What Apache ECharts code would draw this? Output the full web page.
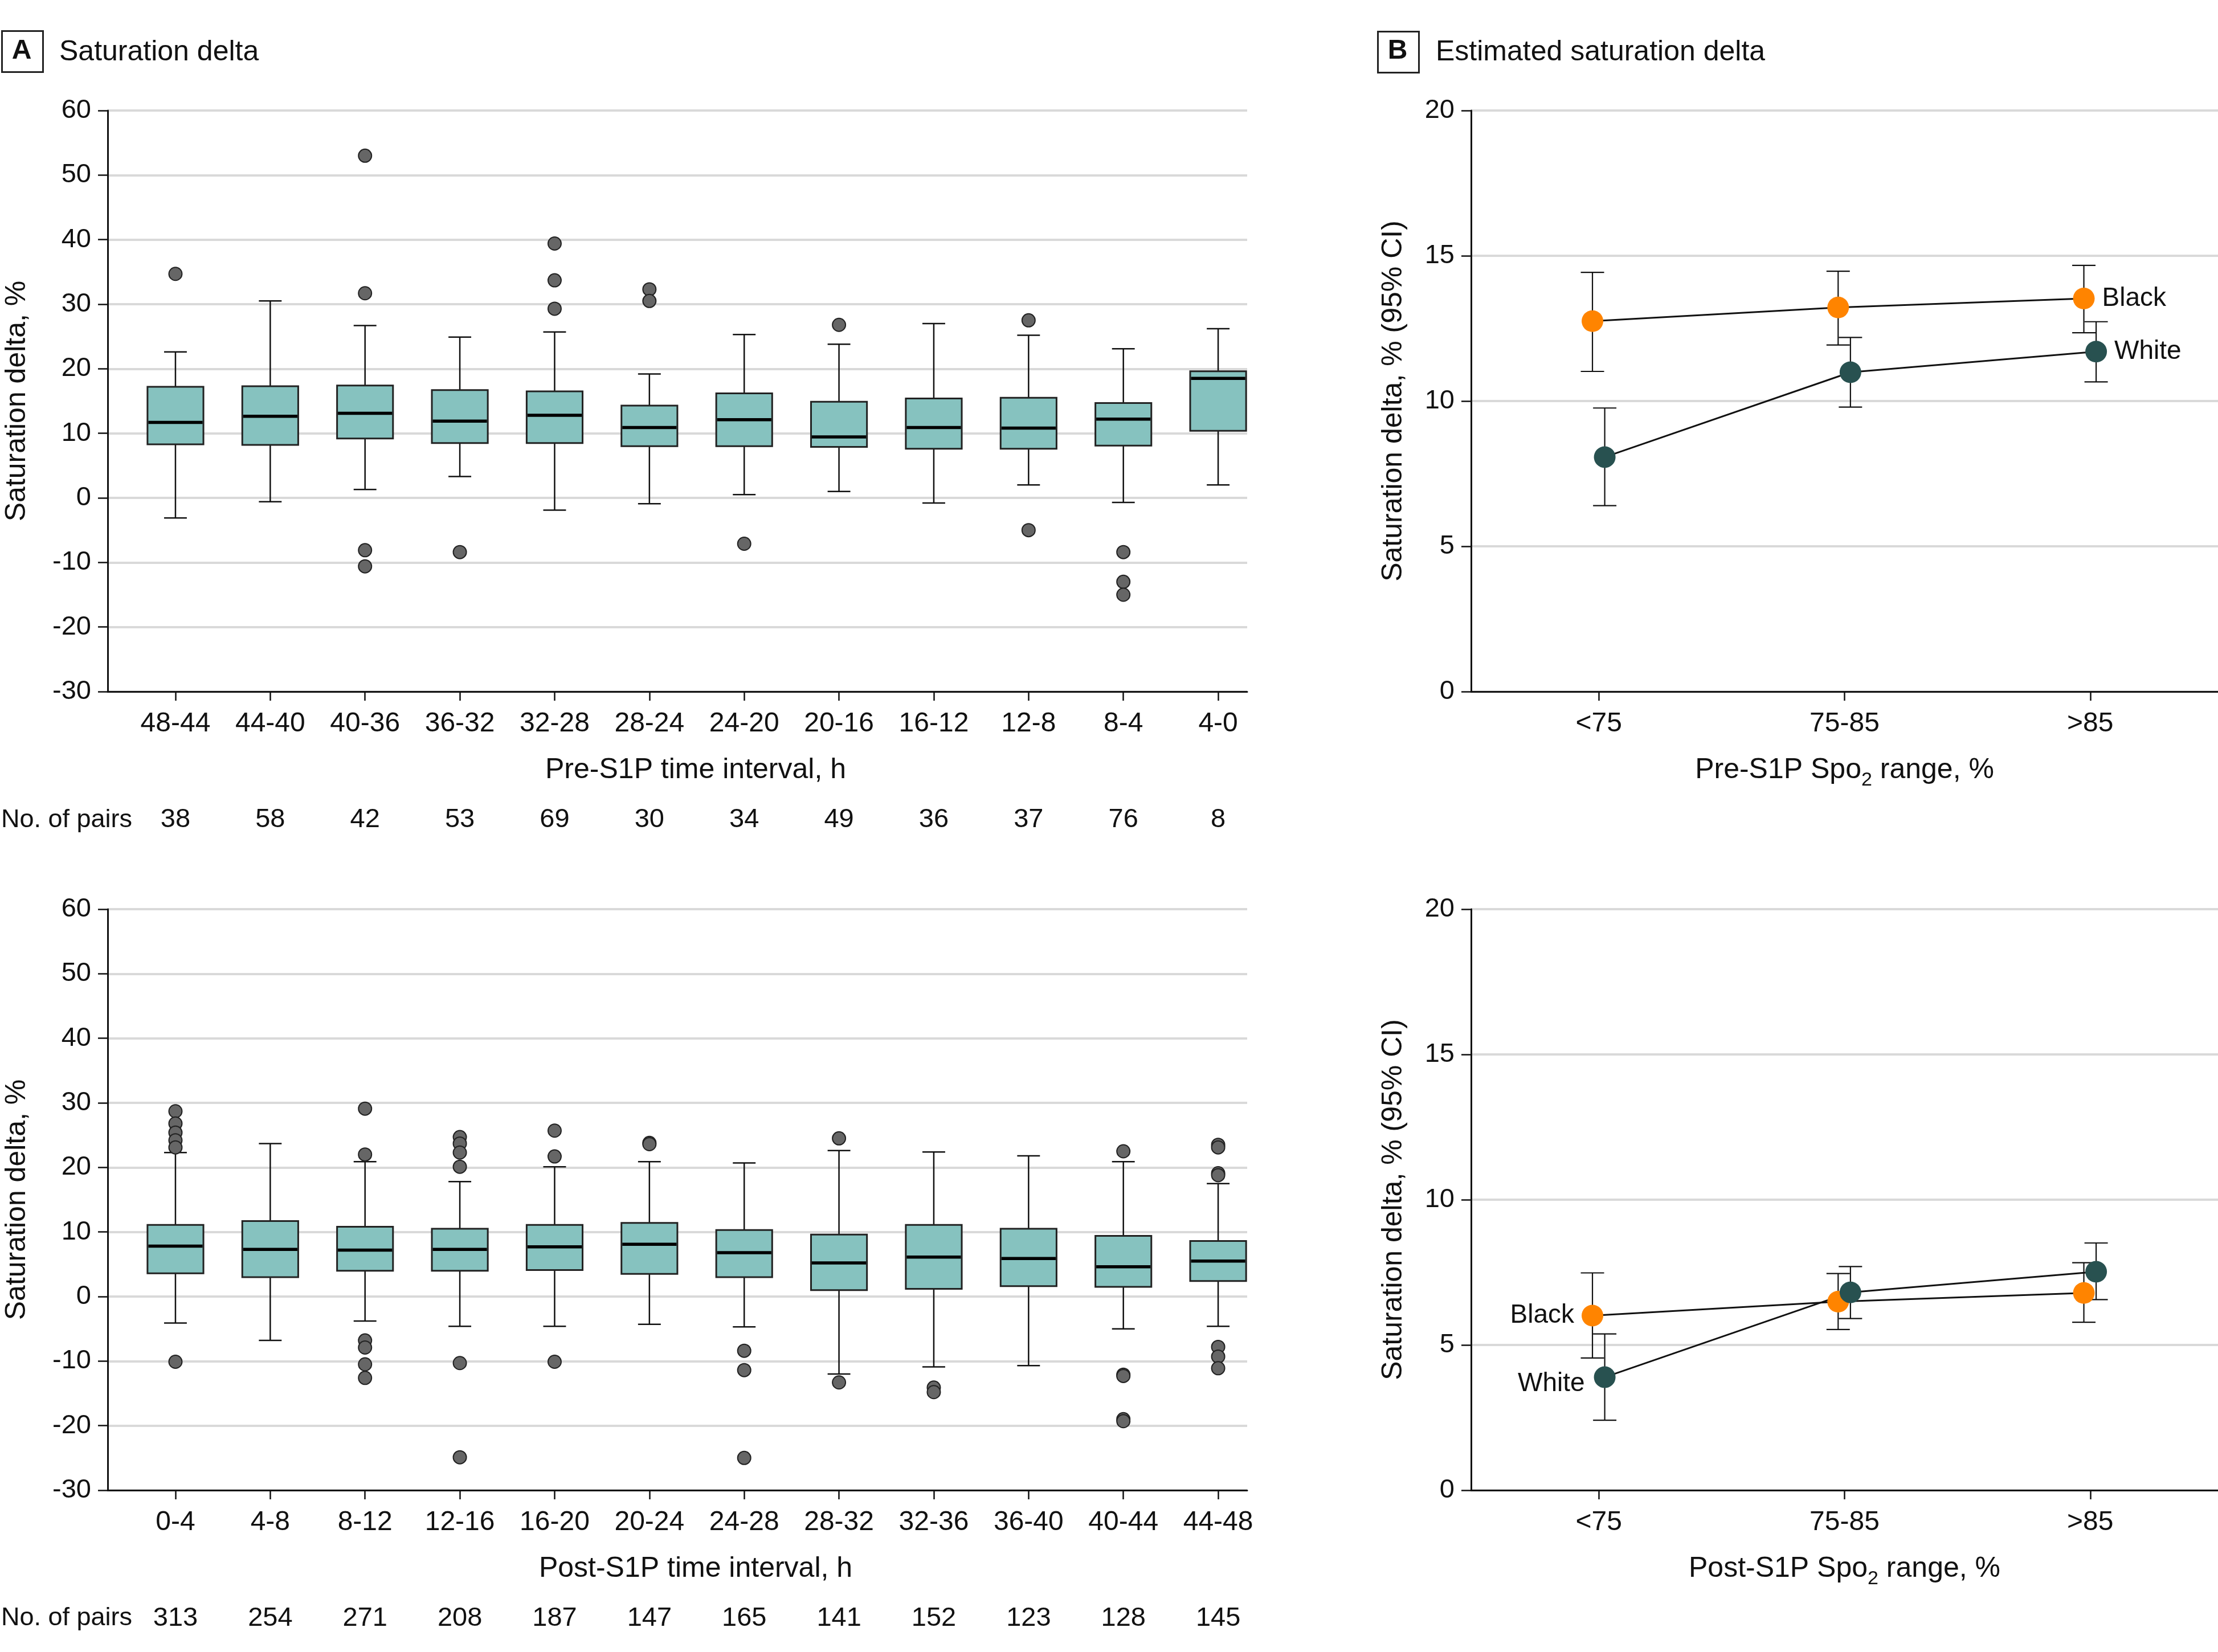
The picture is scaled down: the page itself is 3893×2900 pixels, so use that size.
<!DOCTYPE html>
<html>
<head>
<meta charset="utf-8">
<script src="https://cdn.jsdelivr.net/npm/echarts@6/dist/echarts.min.js"></script>
<style>
html,body{margin:0;padding:0;background:#fff;}
#chart{width:3893px;height:2900px;}
</style>
</head>
<body>
<div id="chart"></div>
<script>
// ---------- DATA ----------
const preCats = ['48-44','44-40','40-36','36-32','32-28','28-24','24-20','20-16','16-12','12-8','8-4','4-0'];
// [lower whisker, Q1, median, Q3, upper whisker]
const preBox = [
  [-3.1, 8.3, 11.7, 17.2, 22.6],
  [-0.6, 8.2, 12.65, 17.3, 30.5],
  [1.3, 9.2, 13.1, 17.4, 26.7],
  [3.3, 8.5, 11.9, 16.7, 24.9],
  [-1.9, 8.5, 12.8, 16.5, 25.7],
  [-0.9, 8.0, 10.9, 14.3, 19.2],
  [0.5, 8.0, 12.1, 16.2, 25.3],
  [1.0, 7.9, 9.45, 14.9, 23.8],
  [-0.8, 7.6, 10.9, 15.4, 27.0],
  [2.0, 7.6, 10.8, 15.5, 25.2],
  [-0.7, 8.1, 12.2, 14.7, 23.1],
  [2.0, 10.4, 18.5, 19.6, 26.2]
];
const preOutliers = [
  [34.7],
  [],
  [53.0, 31.7, -8.1, -10.6],
  [-8.4],
  [39.4, 33.7, 29.3],
  [32.3, 30.5],
  [-7.1],
  [26.8],
  [],
  [27.5, -5.0],
  [-8.4, -13.0, -15.0],
  []
];
const prePairs = [38, 58, 42, 53, 69, 30, 34, 49, 36, 37, 76, 8];

const postCats = ['0-4','4-8','8-12','12-16','16-20','20-24','24-28','28-32','32-36','36-40','40-44','44-48'];
const postBox = [
  [-4.1, 3.6, 7.8, 11.1, 22.3],
  [-6.8, 3.0, 7.3, 11.7, 23.7],
  [-3.8, 4.0, 7.2, 10.8, 20.9],
  [-4.6, 4.0, 7.3, 10.5, 17.8],
  [-4.6, 4.1, 7.7, 11.1, 20.1],
  [-4.3, 3.5, 8.1, 11.4, 20.9],
  [-4.7, 3.0, 6.8, 10.3, 20.7],
  [-12.0, 1.0, 5.2, 9.6, 22.6],
  [-10.9, 1.2, 6.1, 11.1, 22.4],
  [-10.7, 1.6, 5.9, 10.5, 21.8],
  [-5.0, 1.5, 4.6, 9.4, 20.9],
  [-4.6, 2.4, 5.5, 8.6, 17.5]
];
const postOutliers = [
  [28.7, 26.8, 25.4, 24.2, 23.1, -10.1],
  [],
  [29.1, 22.0, -6.8, -7.9, -10.5, -12.6],
  [24.7, 23.7, 22.3, 20.1, -10.3, -24.9],
  [25.7, 21.7, -10.1],
  [23.8, 23.6],
  [-8.4, -11.4, -25.0],
  [24.5, -13.3],
  [-14.1, -14.8],
  [],
  [22.5, -12.1, -12.3, -19.0, -19.3],
  [23.5, 23.1, 19.1, 18.8, -7.8, -9.3, -11.1]
];
const postPairs = [313, 254, 271, 208, 187, 147, 165, 141, 152, 123, 128, 145];

const spoCats = ['<75', '75-85', '>85'];
const preBlackEst = [12.75, 13.22, 13.53];
const preBlackLo  = [11.02, 11.93, 12.35];
const preBlackHi  = [14.43, 14.47, 14.67];
const preWhiteEst = [8.07, 10.99, 11.70];
const preWhiteLo  = [6.40, 9.79, 10.66];
const preWhiteHi  = [9.76, 12.19, 12.73];
const postBlackEst = [6.01, 6.49, 6.79];
const postBlackLo  = [4.55, 5.53, 5.78];
const postBlackHi  = [7.48, 7.46, 7.83];
const postWhiteEst = [3.89, 6.81, 7.52];
const postWhiteLo  = [2.41, 5.91, 6.56];
const postWhiteHi  = [5.38, 7.70, 8.51];

const yTicksLeft = [-30, -20, -10, 0, 10, 20, 30, 40, 50, 60];
const yTicksRight = [0, 5, 10, 15, 20];

// ---------- STYLE ----------
const FONT = "'Liberation Sans', Arial, sans-serif";
const TXT = '#111';
const GRIDC = '#d9d9d9';
const BOXFILL = '#86c2bf';
const ORANGE = '#ff8400';
const TEAL = '#285150';
const BOX_W = 0.59, CAP_W = 0.24;
const EB_CAP = 0.095, DX_BLACK = -0.026, DX_WHITE = 0.024;

const chart = echarts.init(document.getElementById('chart'), null, {renderer: 'canvas'});

const idx12 = preCats.map((_, i) => i);
const idx3 = spoCats.map((_, i) => i);

function leftXAxis(grid, cats, name) {
  return {
    gridIndex: grid, type: 'value', min: -0.715, max: 11.306, position: 'bottom',
    splitLine: {show: false},
    axisLine: {show: true, onZero: false, lineStyle: {color: '#111', width: 3}},
    axisTick: {show: true, customValues: idx12, length: 16, lineStyle: {color: '#111', width: 2.5}},
    axisLabel: {show: true, customValues: idx12, formatter: v => cats[Math.round(v)], margin: 33,
      fontSize: 48, fontFamily: FONT, color: TXT},
    name: name, nameLocation: 'middle', nameGap: 113,
    nameTextStyle: {fontSize: 50, fontFamily: FONT, color: TXT, padding: [0, 0, 0, 64]}
  };
}
function pairsXAxis(grid, counts) {
  return {
    gridIndex: grid, type: 'value', min: -0.715, max: 11.306, position: 'bottom',
    splitLine: {show: false}, axisLine: {show: false}, axisTick: {show: false},
    axisLabel: {show: true, customValues: idx12, formatter: v => String(counts[Math.round(v)]), margin: 202,
      fontSize: 47, fontFamily: FONT, color: TXT}
  };
}
function rightXAxis(grid, name) {
  return {
    gridIndex: grid, type: 'value', min: -0.52, max: 2.52, position: 'bottom',
    splitLine: {show: false},
    axisLine: {show: true, onZero: false, lineStyle: {color: '#111', width: 3}},
    axisTick: {show: true, customValues: idx3, length: 16, lineStyle: {color: '#111', width: 2.5}},
    axisLabel: {show: true, customValues: idx3, formatter: v => spoCats[Math.round(v)], margin: 33,
      fontSize: 48, fontFamily: FONT, color: TXT},
    name: name, nameLocation: 'middle', nameGap: 103,
    nameTextStyle: {
      rich: {
        a: {fontSize: 50, fontFamily: FONT, color: TXT, lineHeight: 70, verticalAlign: 'middle'},
        b: {fontSize: 34, fontFamily: FONT, color: TXT, lineHeight: 34, verticalAlign: 'bottom'}
      }
    }
  };
}
function yAxisDef(grid, min, max, interval, name, gap) {
  return {
    gridIndex: grid, type: 'value', min: min, max: max, interval: interval,
    splitLine: {show: true, lineStyle: {color: GRIDC, width: 4}},
    axisLine: {show: true, onZero: false, lineStyle: {color: '#111', width: 3}},
    axisTick: {show: true, length: 17, lineStyle: {color: '#111', width: 2.5}},
    axisLabel: {fontSize: 47, fontFamily: FONT, color: TXT, margin: 29},
    name: name, nameLocation: 'middle', nameGap: gap,
    nameTextStyle: {fontSize: 50, fontFamily: FONT, color: TXT}
  };
}

function boxRender(params, api) {
  const x = api.value(0);
  const lo = api.coord([x, api.value(1)]);
  const q1 = api.coord([x, api.value(2)]);
  const md = api.coord([x, api.value(3)]);
  const q3 = api.coord([x, api.value(4)]);
  const hi = api.coord([x, api.value(5)]);
  const bw = api.size([BOX_W, 0])[0];
  const cw = api.size([CAP_W, 0])[0];
  const cx = lo[0];
  const ls = {stroke: '#111', lineWidth: 2.5};
  return {type: 'group', children: [
    {type: 'line', shape: {x1: cx, y1: hi[1], x2: cx, y2: q3[1]}, style: ls},
    {type: 'line', shape: {x1: cx, y1: q1[1], x2: cx, y2: lo[1]}, style: ls},
    {type: 'line', shape: {x1: cx - cw / 2, y1: hi[1], x2: cx + cw / 2, y2: hi[1]}, style: ls},
    {type: 'line', shape: {x1: cx - cw / 2, y1: lo[1], x2: cx + cw / 2, y2: lo[1]}, style: ls},
    {type: 'rect', shape: {x: cx - bw / 2, y: q3[1], width: bw, height: q1[1] - q3[1]},
      style: {fill: BOXFILL, stroke: '#222', lineWidth: 3}},
    {type: 'line', shape: {x1: cx - bw / 2 + 1.5, y1: md[1], x2: cx + bw / 2 - 1.5, y2: md[1]},
      style: {stroke: '#000', lineWidth: 5.5}}
  ]};
}
function errRender(params, api) {
  const x = api.value(0);
  const lo = api.coord([x, api.value(1)]);
  const hi = api.coord([x, api.value(2)]);
  const cw = api.size([EB_CAP, 0])[0];
  const cx = lo[0];
  const ls = {stroke: '#111', lineWidth: 2.2};
  return {type: 'group', children: [
    {type: 'line', shape: {x1: cx, y1: lo[1], x2: cx, y2: hi[1]}, style: ls},
    {type: 'line', shape: {x1: cx - cw / 2, y1: hi[1], x2: cx + cw / 2, y2: hi[1]}, style: ls},
    {type: 'line', shape: {x1: cx - cw / 2, y1: lo[1], x2: cx + cw / 2, y2: lo[1]}, style: ls}
  ]};
}

function boxSeries(xi, yi, box) {
  return {type: 'custom', xAxisIndex: xi, yAxisIndex: yi, renderItem: boxRender, z: 2, silent: true,
    data: box.map((b, i) => [i, b[0], b[1], b[2], b[3], b[4]])};
}
function outlierSeries(xi, yi, outs) {
  const d = [];
  outs.forEach((arr, i) => arr.forEach(v => d.push([i, v])));
  return {type: 'scatter', xAxisIndex: xi, yAxisIndex: yi, data: d, symbol: 'circle', symbolSize: 23, z: 3,
    itemStyle: {color: '#666', borderColor: '#222', borderWidth: 2, opacity: 1}, silent: true};
}
function errSeries(xi, yi, lo, hi, dx) {
  return {type: 'custom', xAxisIndex: xi, yAxisIndex: yi, renderItem: errRender, z: 2, silent: true,
    data: lo.map((l, i) => [i + dx, l, hi[i]])};
}
function lineSeries(xi, yi, est, dx, color, labelIdx, labelText, pos, offset) {
  const lbl = {fontSize: 46, fontFamily: FONT, color: TXT};
  return {type: 'line', xAxisIndex: xi, yAxisIndex: yi, z: 4, silent: true,
    symbol: 'circle', symbolSize: 38, showSymbol: true,
    itemStyle: {color: color, borderWidth: 0},
    lineStyle: {color: '#111', width: 3},
    data: est.map((v, i) => {
      const item = {value: [i + dx, v]};
      if (i === labelIdx) item.label = Object.assign({show: true, position: pos, distance: 13,
        offset: offset, formatter: labelText}, lbl);
      return item;
    })};
}

const option = {
  animation: false,
  backgroundColor: '#fff',
  textStyle: {fontFamily: FONT},
  grid: [
    {left: 189, top: 194, width: 2000, height: 1020, outerBoundsMode: 'none', containLabel: false},
    {left: 189, top: 1596, width: 2000, height: 1020, outerBoundsMode: 'none', containLabel: false},
    {left: 2582, top: 194, width: 1311, height: 1020, outerBoundsMode: 'none', containLabel: false},
    {left: 2582, top: 1596, width: 1311, height: 1020, outerBoundsMode: 'none', containLabel: false}
  ],
  xAxis: [
    leftXAxis(0, preCats, 'Pre-S1P time interval, h'),
    pairsXAxis(0, prePairs),
    leftXAxis(1, postCats, 'Post-S1P time interval, h'),
    pairsXAxis(1, postPairs),
    rightXAxis(2, '{a|Pre-S1P Spo}{b|2}{a| range, %}'),
    rightXAxis(3, '{a|Post-S1P Spo}{b|2}{a| range, %}')
  ],
  yAxis: [
    yAxisDef(0, yTicksLeft[0], yTicksLeft[yTicksLeft.length - 1], 10, 'Saturation delta, %', 134),
    yAxisDef(1, yTicksLeft[0], yTicksLeft[yTicksLeft.length - 1], 10, 'Saturation delta, %', 134),
    yAxisDef(2, yTicksRight[0], yTicksRight[yTicksRight.length - 1], 5, 'Saturation delta, % (95% CI)', 111),
    yAxisDef(3, yTicksRight[0], yTicksRight[yTicksRight.length - 1], 5, 'Saturation delta, % (95% CI)', 111)
  ],
  series: [
    boxSeries(0, 0, preBox),
    outlierSeries(0, 0, preOutliers),
    boxSeries(2, 1, postBox),
    outlierSeries(2, 1, postOutliers),
    errSeries(4, 2, preBlackLo, preBlackHi, DX_BLACK),
    errSeries(4, 2, preWhiteLo, preWhiteHi, DX_WHITE),
    lineSeries(4, 2, preBlackEst, DX_BLACK, ORANGE, 2, 'Black', 'right', [0, 0]),
    lineSeries(4, 2, preWhiteEst, DX_WHITE, TEAL, 2, 'White', 'right', [0, 0]),
    errSeries(5, 3, postBlackLo, postBlackHi, DX_BLACK),
    errSeries(5, 3, postWhiteLo, postWhiteHi, DX_WHITE),
    lineSeries(5, 3, postBlackEst, DX_BLACK, ORANGE, 0, 'Black', 'left', [0, 0]),
    lineSeries(5, 3, postWhiteEst, DX_WHITE, TEAL, 0, 'White', 'left', [-3, 12])
  ],
  graphic: [
    {type: 'rect', left: 2, top: 53, shape: {width: 72, height: 72}, style: {fill: '#fff', stroke: '#222', lineWidth: 3}},
    {type: 'text', x: 38, y: 90, style: {text: 'A', fontSize: 48, fontWeight: 'bold', fontFamily: FONT, fill: TXT, align: 'center', verticalAlign: 'middle'}},
    {type: 'text', x: 104, y: 92, style: {text: 'Saturation delta', fontSize: 50, fontFamily: FONT, fill: TXT, align: 'left', verticalAlign: 'middle'}},
    {type: 'rect', left: 2417, top: 54, shape: {width: 72, height: 72}, style: {fill: '#fff', stroke: '#222', lineWidth: 3}},
    {type: 'text', x: 2453, y: 90, style: {text: 'B', fontSize: 48, fontWeight: 'bold', fontFamily: FONT, fill: TXT, align: 'center', verticalAlign: 'middle'}},
    {type: 'text', x: 2520, y: 92, style: {text: 'Estimated saturation delta', fontSize: 50, fontFamily: FONT, fill: TXT, align: 'left', verticalAlign: 'middle'}},
    {type: 'text', x: 2, y: 1440, style: {text: 'No. of pairs', fontSize: 45, fontFamily: FONT, fill: TXT, align: 'left', verticalAlign: 'middle'}},
    {type: 'text', x: 2, y: 2841, style: {text: 'No. of pairs', fontSize: 45, fontFamily: FONT, fill: TXT, align: 'left', verticalAlign: 'middle'}}
  ]
};
chart.setOption(option);
</script>
</body>
</html>
